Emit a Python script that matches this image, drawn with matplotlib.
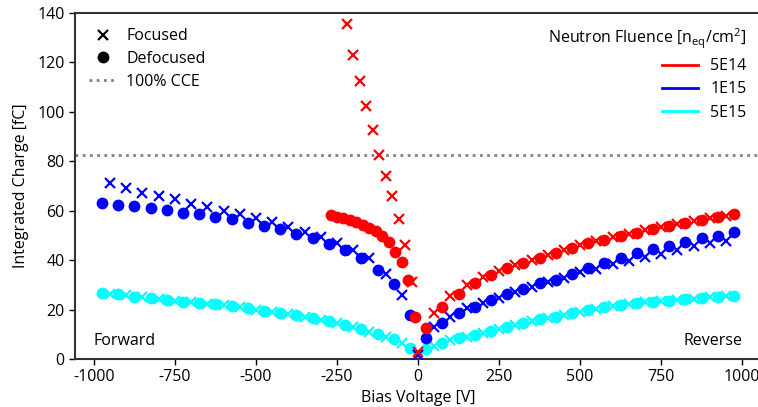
import matplotlib
matplotlib.use("Agg")
import matplotlib.pyplot as plt
from matplotlib.lines import Line2D

plt.rcParams['font.family'] = ['Open Sans', 'DejaVu Sans']
plt.rcParams['axes.unicode_minus'] = False

# ---------------- data ----------------
fluences = ["5E14", "1E15", "5E15"]
colors = ["#ff0000", "#0000ff", "#00ffff"]

# reverse-side bias voltages
v_def_rev = [25, 75, 125, 175, 225, 275, 325, 375, 425, 475, 525, 575, 625, 675, 725, 775, 825, 875, 925, 975]
v_foc_rev = [50, 100, 150, 200, 250, 300, 350, 400, 450, 500, 550, 600, 650, 700, 750, 800, 850, 900, 950]
# forward-side bias voltages (1E15, 5E15)
v_def_fwd = [-975, -925, -875, -825, -775, -725, -675, -625, -575, -525, -475, -425, -375, -325, -275, -225, -175, -125, -75, -25]
v_foc_fwd = [-950, -900, -850, -800, -750, -700, -650, -600, -550, -500, -450, -400, -350, -300, -250, -200, -150, -100, -50, 0]
# forward-side bias voltages (5E14, finer steps)
v_def_fwd_5e14 = [-270, -250, -230, -210, -190, -170, -150, -130, -110, -90, -70, -50, -30, -10]
v_foc_fwd_5e14 = [-220, -200, -180, -160, -140, -120, -100, -80, -60, -40, -20, 0]

# 5E14
q_def_fwd_5e14 = [58.3, 57.6, 56.9, 56.3, 55.3, 54.2, 53.1, 51.8, 49.9, 47.5, 43.4, 39.4, 32.0, 17.1]
q_foc_fwd_5e14 = [135.6, 123.0, 112.5, 102.4, 92.7, 82.6, 74.0, 66.0, 56.5, 46.0, 31.3, 3.0]
q_def_rev_5e14 = [12.6, 20.9, 26.3, 30.6, 34.0, 36.7, 39.0, 40.7, 42.8, 45.1, 46.8, 48.2, 49.9, 51.1, 52.6, 53.9, 54.9, 56.3, 57.6, 58.6]
q_foc_rev_5e14 = [18.5, 25.5, 29.8, 33.0, 35.8, 38.0, 40.0, 42.0, 44.0, 46.0, 47.6, 49.2, 50.6, 52.0, 53.3, 54.5, 55.7, 56.9, 58.0]

# 1E15
q_def_fwd_1e15 = [63.0, 62.3, 61.9, 61.0, 60.3, 59.2, 58.6, 57.6, 56.5, 55.2, 53.9, 52.5, 50.6, 48.8, 46.4, 44.1, 41.0, 36.0, 30.2, 17.8]
q_foc_fwd_1e15 = [71.1, 69.1, 67.3, 66.0, 64.7, 62.7, 61.5, 59.9, 58.6, 56.9, 55.3, 53.5, 51.5, 49.5, 46.8, 44.1, 40.8, 34.4, 25.9, 1.5]
q_def_rev_1e15 = [8.6, 14.7, 18.5, 20.9, 23.9, 26.2, 28.2, 30.6, 32.0, 34.3, 36.7, 38.7, 41.0, 42.8, 44.4, 45.9, 47.2, 48.8, 49.9, 51.3]
q_foc_rev_1e15 = [13.1, 17.1, 20.5, 22.5, 24.8, 27.2, 29.3, 31.0, 32.7, 35.0, 36.5, 38.3, 39.8, 41.2, 42.6, 44.3, 45.8, 46.8, 47.6]

# 5E15
q_def_fwd_5e15 = [26.6, 26.2, 25.2, 24.6, 23.9, 23.2, 22.8, 22.1, 21.4, 20.6, 19.6, 18.7, 17.6, 16.4, 15.2, 13.9, 12.2, 10.2, 8.0, 4.3]
q_foc_fwd_5e15 = [26.3, 25.7, 25.0, 24.3, 23.6, 23.0, 22.4, 21.7, 21.0, 20.0, 19.0, 18.0, 17.0, 15.7, 14.4, 12.9, 11.0, 9.0, 6.3, 1.0]
q_def_rev_5e15 = [4.0, 6.6, 8.4, 9.7, 11.3, 13.1, 14.7, 16.1, 17.1, 18.7, 19.8, 20.9, 21.9, 22.5, 23.2, 23.6, 24.1, 24.6, 25.2, 25.5]
q_foc_rev_5e15 = [5.3, 7.5, 9.0, 10.5, 12.2, 13.9, 15.4, 16.6, 17.9, 19.2, 20.4, 21.4, 22.2, 22.9, 23.4, 23.9, 24.4, 24.9, 25.3]

cce_100 = 82.5

x_ticks = [-1000, -750, -500, -250, 0, 250, 500, 750, 1000]
y_ticks = [0, 20, 40, 60, 80, 100, 120, 140]

FS = 11.5

# ---------------- plot ----------------
fig = plt.figure(figsize=(7.58, 4.07), dpi=100)
ax = fig.add_axes([0.099, 0.118, 0.905, 0.850])

ax.axhline(cce_100, color="#808080", linestyle=(0, (1, 1.6)), linewidth=2, zorder=1)

series = [
    (colors[2], v_def_fwd, q_def_fwd_5e15, v_foc_fwd, q_foc_fwd_5e15, q_def_rev_5e15, q_foc_rev_5e15),
    (colors[1], v_def_fwd, q_def_fwd_1e15, v_foc_fwd, q_foc_fwd_1e15, q_def_rev_1e15, q_foc_rev_1e15),
    (colors[0], v_def_fwd_5e14, q_def_fwd_5e14, v_foc_fwd_5e14, q_foc_fwd_5e14, q_def_rev_5e14, q_foc_rev_5e14),
]
z = 2
for c, vdf, qdf, vff, qff, qdr, qfr in series:
    ax.plot(vdf, qdf, 'o', color=c, markersize=8.5, markeredgewidth=0, zorder=z)
    ax.plot(v_def_rev, qdr, 'o', color=c, markersize=8.5, markeredgewidth=0, zorder=z)
    ax.plot(vff, qff, 'x', color=c, markersize=7, markeredgewidth=1.6, zorder=z + 0.5)
    ax.plot(v_foc_rev, qfr, 'x', color=c, markersize=7, markeredgewidth=1.6, zorder=z + 0.5)
    z += 1

ax.set_xlim(-1058, 1058)
ax.set_ylim(0, 140)
ax.set_xticks(x_ticks)
ax.set_yticks(y_ticks)
ax.set_xticklabels([str(t) for t in x_ticks])
ax.tick_params(labelsize=FS, direction='out', length=4, width=1, colors='black')
ax.set_xlabel("Bias Voltage [V]", fontsize=FS, labelpad=3)
ax.set_ylabel("Integrated Charge [fC]", fontsize=FS, labelpad=6)
for s in ['left', 'bottom', 'top']:
    ax.spines[s].set_color('#333333')
    ax.spines[s].set_linewidth(1.5)
ax.spines['right'].set_visible(False)

ax.text(-1000, 4, "Forward", fontsize=FS, ha='left', va='bottom')
ax.text(1000, 4, "Reverse", fontsize=FS, ha='right', va='bottom')

h1 = [Line2D([], [], marker='x', linestyle='none', color='black', markersize=7, markeredgewidth=1.6),
      Line2D([], [], marker='o', linestyle='none', color='black', markersize=8.5, markeredgewidth=0),
      Line2D([], [], linestyle=(0, (1, 1.6)), color='#808080', linewidth=2)]
leg1 = ax.legend(h1, ["Focused", "Defocused", "100% CCE"], loc='upper left', frameon=False,
                 fontsize=FS, handlelength=1.7, handletextpad=0.6, labelspacing=0.42,
                 bbox_to_anchor=(0.0, 0.998))
ax.add_artist(leg1)

h2 = [Line2D([], [], color=c, linewidth=2) for c in colors]
leg2 = ax.legend(h2, fluences, loc='upper right', frameon=False, fontsize=FS,
                 title="Neutron Fluence [n$_{\\mathregular{eq}}$/cm$^{\\mathregular{2}}$]",
                 title_fontsize=FS, handlelength=2.2, labelspacing=0.45, bbox_to_anchor=(1.0, 1.003))
leg2._legend_box.align = "right"

fig.savefig("out.png", dpi=100)
